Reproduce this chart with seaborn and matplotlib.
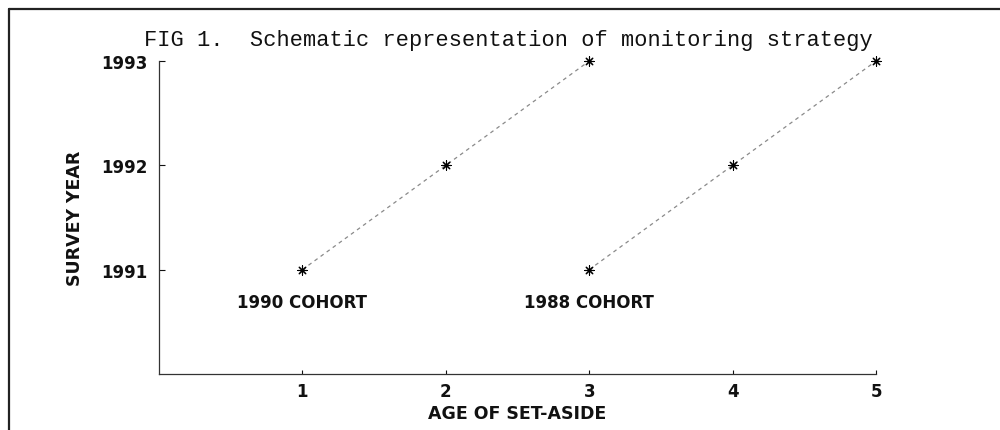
import matplotlib
matplotlib.use("Agg")
import matplotlib.pyplot as plt
import seaborn as sns
import pandas as pd
from matplotlib.lines import Line2D

# data
cohorts = ["1990 COHORT", "1990 COHORT", "1990 COHORT",
           "1988 COHORT", "1988 COHORT", "1988 COHORT"]
ages = [1, 2, 3, 3, 4, 5]
years = [1991, 1992, 1993, 1991, 1992, 1993]
label_texts = ["1990 COHORT", "1988 COHORT"]
label_x = [1, 3]
label_y = [1990.69, 1990.69]
x_ticks = [1, 2, 3, 4, 5]
y_ticks = [1991, 1992, 1993]
title = "FIG 1.  Schematic representation of monitoring strategy"

df = pd.DataFrame({"cohort": cohorts, "age": ages, "year": years})

sns.set_theme(style="white")
plt.rcParams["font.family"] = ["DejaVu Sans"]

fig = plt.figure(figsize=(10, 4.31), dpi=100)
ax = fig.add_axes([0.159, 0.130, 0.717, 0.726])

sns.lineplot(data=df, x="age", y="year", units="cohort", estimator=None,
             color="#8a8a8a", linestyle=(0, (3, 3)), linewidth=0.9, ax=ax,
             sort=False)
sns.scatterplot(data=df, x="age", y="year", marker=(8, 2, 0), s=45,
                color="black", edgecolor="black", linewidth=0.8, ax=ax,
                zorder=5, clip_on=False)

for t, x, y in zip(label_texts, label_x, label_y):
    ax.text(x, y, t, ha="center", va="center", fontsize=12, fontweight="bold",
            color="#111111")

ax.set_xlim(0, 5)
ax.set_ylim(1990, 1993)
ax.set_xticks(x_ticks)
ax.set_yticks(y_ticks)
ax.set_xticklabels([str(v) for v in x_ticks], fontsize=12, fontweight="bold")
ax.set_yticklabels([str(v) for v in y_ticks], fontsize=12, fontweight="bold")
ax.tick_params(axis="x", direction="in", length=3, width=0.8, pad=6,
               colors="#111111", bottom=True)
ax.tick_params(axis="y", direction="in", length=4, width=0.8, pad=8.5,
               colors="#111111", left=True)

ax.set_xlabel("AGE OF SET-ASIDE", fontsize=12.5, fontweight="bold",
              labelpad=3, color="#111111")
ax.set_ylabel("SURVEY YEAR", fontsize=12.5, fontweight="bold",
              labelpad=12, color="#111111")

for s in ["top", "right"]:
    ax.spines[s].set_visible(False)
for s in ["left", "bottom"]:
    ax.spines[s].set_color("#333333")
    ax.spines[s].set_linewidth(0.9)
ax.grid(False)

fig.text(0.508, 0.907, title, ha="center", va="center",
         fontsize=15.8, family=["Liberation Mono", "DejaVu Sans Mono"],
         color="#111111")

# outer frame (top and left)
fig.add_artist(Line2D([0.009, 1.0], [0.977, 0.977], transform=fig.transFigure,
                      color="#222222", linewidth=1.6))
fig.add_artist(Line2D([0.009, 0.009], [0.0, 0.977], transform=fig.transFigure,
                      color="#222222", linewidth=1.6))

fig.savefig("out.png", dpi=100)
